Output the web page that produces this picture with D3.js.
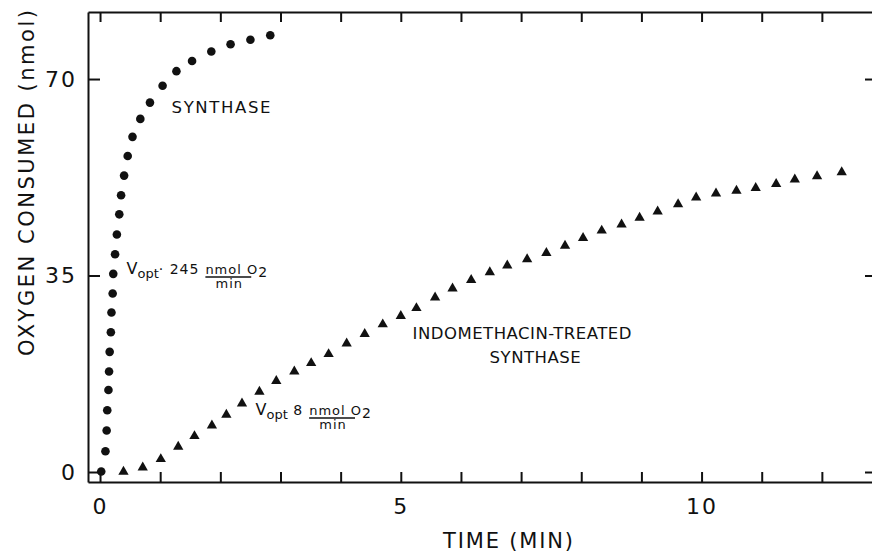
<!DOCTYPE html>
<html>
<head>
<meta charset="utf-8">
<script src="https://cdn.jsdelivr.net/npm/d3@7"></script>
<style>
  body { margin: 0; background: #fff; }
  text { font-family: "DejaVu Sans", sans-serif; fill: #111; }
</style>
</head>
<body>
<div id="vizcontainer"></div>
<script>
const width = 872,
  height = 554;

// synthase (circles): time in min, O2 consumed in nmol
const synthT = [0.02, 0.09, 0.11, 0.12, 0.14, 0.15, 0.16, 0.18, 0.19, 0.21,
  0.22, 0.25, 0.28, 0.32, 0.35, 0.40, 0.46, 0.54, 0.67, 0.83,
  1.04, 1.27, 1.53, 1.85, 2.17, 2.50, 2.83];
const synthO2 = [0.1, 3.7, 7.4, 11.0, 14.6, 17.9, 21.4, 24.9, 28.4, 31.8,
  35.3, 38.8, 42.3, 45.9, 49.3, 52.8, 56.3, 59.7, 62.9, 65.8,
  68.8, 71.4, 73.2, 74.9, 76.2, 77.0, 77.8];

// indomethacin-treated synthase (triangles)
const indoT = [0.39, 0.71, 1.01, 1.30, 1.57, 1.86, 2.10, 2.36, 2.65, 2.93,
  3.23, 3.51, 3.80, 4.10, 4.40, 4.70, 5.00, 5.26, 5.57, 5.86,
  6.17, 6.48, 6.77, 7.10, 7.42, 7.73, 8.03, 8.34, 8.67, 8.97,
  9.27, 9.61, 9.91, 10.24, 10.58, 10.90, 11.24, 11.55, 11.92, 12.33];
const indoO2 = [0.05, 0.8, 2.3, 4.5, 6.4, 8.3, 10.2, 12.2, 14.3, 16.2,
  17.9, 19.4, 21.0, 22.9, 24.6, 26.3, 27.8, 29.2, 31.1, 32.7,
  34.2, 35.6, 36.8, 37.9, 39.0, 40.3, 41.7, 43.0, 44.1, 45.3,
  46.4, 47.7, 48.9, 49.6, 50.1, 50.6, 51.3, 52.1, 52.7, 53.4];

const xTicks = d3.range(0, 13);
const xLabels = [0, 5, 10];
const yTicks = [0, 35, 70];

const frame = { left: 88, right: 873, top: 12, bottom: 482 };

const x = d3.scaleLinear().domain([-0.2, 12.85]).range([frame.left, frame.right]);
const y = d3.scaleLinear().domain([-1.78, 81.94]).range([frame.bottom, frame.top]);

const svg = d3.select('#vizcontainer')
  .append('svg')
  .attr('width', width)
  .attr('height', height);

// axes on all four sides, ticks pointing inwards
const fmtX = d => xLabels.includes(d) ? d : '';

svg.append('g')
  .attr('transform', `translate(0,${frame.bottom})`)
  .call(d3.axisBottom(x).tickValues(xTicks).tickSizeInner(-10).tickSizeOuter(0).tickPadding(16).tickFormat(fmtX));

svg.append('g')
  .attr('transform', `translate(0,${frame.top})`)
  .call(d3.axisTop(x).tickValues(xTicks).tickSizeInner(-10).tickSizeOuter(0).tickFormat(''));

svg.append('g')
  .attr('transform', `translate(${frame.left},0)`)
  .call(d3.axisLeft(y).tickValues(yTicks).tickSizeInner(-12).tickSizeOuter(0).tickPadding(11));

svg.append('g')
  .attr('transform', `translate(${frame.right},0)`)
  .call(d3.axisRight(y).tickValues(yTicks).tickSizeInner(-8).tickSizeOuter(0).tickFormat(''));

svg.selectAll('.domain, .tick line')
  .attr('stroke', '#111')
  .attr('stroke-width', 2);

svg.selectAll('.tick text')
  .style('font-size', '22px')
  .style('letter-spacing', '2px')
  .attr('fill', '#111');

// axis titles
svg.append('text')
  .attr('x', 508)
  .attr('y', 548)
  .attr('text-anchor', 'middle')
  .attr('textLength', 130)
  .attr('lengthAdjust', 'spacing')
  .style('font-size', '21px')
  .text('TIME (MIN)');

svg.append('text')
  .attr('transform', 'translate(34,183) rotate(-90)')
  .attr('text-anchor', 'middle')
  .attr('textLength', 346)
  .attr('lengthAdjust', 'spacing')
  .style('font-size', '21px')
  .text('OXYGEN CONSUMED (nmol)');

// points
svg.append('g')
  .selectAll('circle')
  .data(d3.zip(synthT, synthO2))
  .join('circle')
  .attr('cx', d => x(d[0]))
  .attr('cy', d => y(d[1]))
  .attr('r', 4.3)
  .style('fill', '#111');

svg.append('g')
  .selectAll('path')
  .data(d3.zip(indoT, indoO2))
  .join('path')
  .attr('d', d3.symbol(d3.symbolTriangle, 46))
  .attr('transform', d => `translate(${x(d[0])},${y(d[1])})`)
  .style('fill', '#111');

// labels
svg.append('text')
  .attr('x', x(1.19))
  .attr('y', y(63.95))
  .style('font-size', '16.5px')
  .style('letter-spacing', '1.6px')
  .text('SYNTHASE');

const indoLabel = svg.append('text')
  .style('font-size', '16.5px')
  .style('letter-spacing', '0.5px');
indoLabel.append('tspan').attr('x', x(5.195)).attr('y', y(23.69)).text('INDOMETHACIN-TREATED');
indoLabel.append('tspan').attr('x', x(6.476)).attr('y', y(19.42)).text('SYNTHASE');

function vopt(t, o2, sep, rate) {
  const g = svg.append('g').style('font-size', '13px').style('letter-spacing', '1px');
  const x0 = x(t), y0 = y(o2);
  const head = g.append('text').attr('x', x0).attr('y', y0);
  head.append('tspan').text('V').style('font-size', '16px').style('letter-spacing', '0px');
  head.append('tspan').text('opt').attr('dy', 4).style('font-size', '13px').style('letter-spacing', '0px');
  head.append('tspan').text(sep + rate).attr('dy', -4).style('font-size', '14px');
  const nx = x0 + head.node().getComputedTextLength() + 6;
  const num = g.append('text').attr('x', nx).attr('y', y0).text('nmol O');
  const nw = num.node().getComputedTextLength() - 1;
  g.append('text').attr('x', nx + nw + 1).attr('y', y0 + 3).style('font-size', '14px').text('2');
  g.append('line')
    .attr('x1', nx).attr('x2', nx + nw - 6)
    .attr('y1', y0 + 3).attr('y2', y0 + 3)
    .attr('stroke', '#111').attr('stroke-width', 1.4);
  g.append('text').attr('x', nx + nw / 2 - 2).attr('y', y0 + 14).attr('text-anchor', 'middle').text('min');
}

vopt(0.44, 35.27, '·  ', '245');
vopt(2.585, 10.15, '  ', '8');
</script>
</body>
</html>
